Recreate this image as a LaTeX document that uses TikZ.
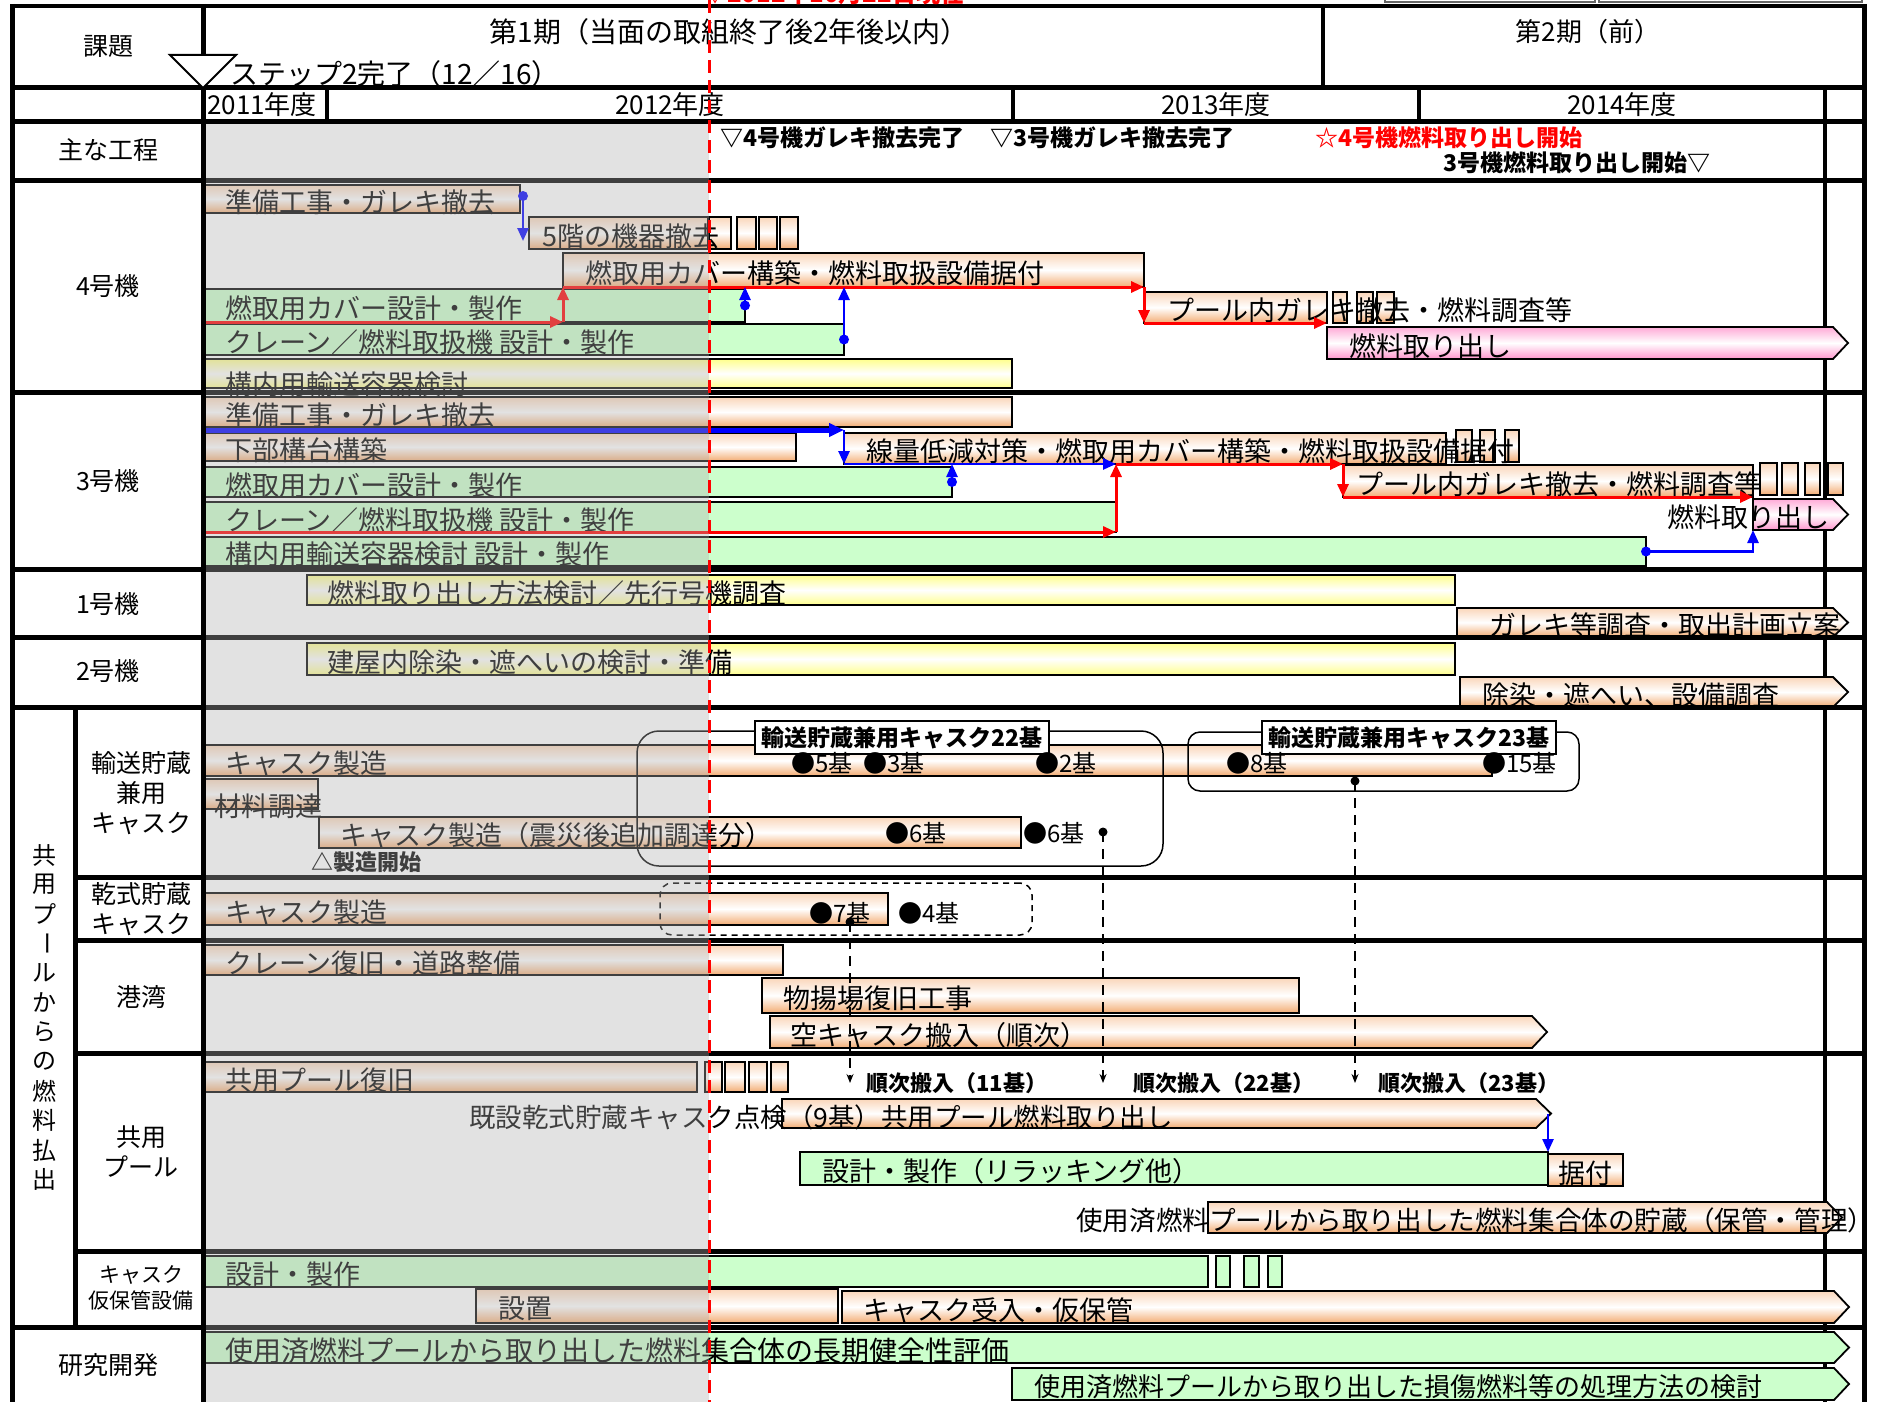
\documentclass[tikz,border=0pt]{standalone}
\usepackage{fontspec}
\setmainfont{Noto Sans CJK JP}
\usepackage{graphicx}
\usetikzlibrary{arrows.meta,calc}

\definecolor{peachT}{RGB}{250,214,186}
\definecolor{peachB}{RGB}{243,172,115}
\definecolor{greenF}{RGB}{204,255,204}
\definecolor{yelT}{RGB}{255,255,140}
\definecolor{pinkT}{RGB}{255,170,215}
\definecolor{pinkB}{RGB}{255,150,205}

\newcommand{\jfs}[1]{\fontsize{#1}{#1}\selectfont}
\newcommand{\mkbar}[6]{%
  \node[inner sep=0pt, outer sep=0pt, minimum width={(#5)-(#3)}, minimum height={(#6)-(#4)}, anchor=north west] (#1) at (#3,#4) {};
  \path[#2] (#1.north west) rectangle (#1.south east);}
\newcommand{\mkarr}[6]{%
  \node[inner sep=0pt, outer sep=0pt, minimum width={(#5)-(#3)}, minimum height={(#6)-(#4)}, anchor=north west] (#1) at (#3,#4) {};
  \path[#2] (#1.north west) -- (#1.north east) -- ([xshift=15pt]#1.east) -- (#1.south east) -- (#1.south west) -- cycle;}
\newcommand{\btx}[4]{\node[bt] (#1) at ([xshift=#3pt,yshift=-3pt]#2.west) {#4};}

\tikzset{
  pch/.style={draw=black, line width=1.8pt, top color=peachT, bottom color=peachB, middle color=white},
  grn/.style={draw=black, line width=1.8pt, fill=greenF},
  ylw/.style={draw=black, line width=1.8pt, top color=yelT, bottom color=yelT, middle color=white},
  pnk/.style={draw=black, line width=1.8pt, top color=pinkT, bottom color=pinkB, middle color=white},
  bt/.style={anchor=west, inner sep=0pt, font=\jfs{27}},
  ms/.style={anchor=west, inner sep=0pt, font=\bfseries\jfs{23}},
  sj/.style={anchor=west, inner sep=0pt, font=\bfseries\jfs{22}},
  kl/.style={anchor=west, inner sep=0pt, font=\jfs{24}},
  cl/.style={inner sep=0pt, align=center, font=\fontsize{25}{30}\selectfont},
  hd/.style={inner sep=0pt, font=\jfs{26}},
  vt/.style={inner sep=0pt, font=\jfs{24}},
  gl/.style={line width=5pt},
  rcon/.style={red, line width=3pt, -{Triangle[length=13pt,width=11pt]}},
  bcon/.style={blue, line width=2.5pt, -{Triangle[length=13pt,width=11pt]}},
  bconT/.style={blue, line width=5pt, -{Triangle[length=15pt,width=13pt]}},
  dcon/.style={black, line width=2pt, dash pattern=on 10pt off 7pt, -{Stealth[length=9pt,width=7pt]}},
  lab/.style={draw=black, fill=white, line width=2pt, font=\bfseries\jfs{23}, anchor=north west, inner sep=0pt},
}

\begin{document}
\begin{tikzpicture}[x=1pt,y=-1pt]
\useasboundingbox (0,0) rectangle (1886,1402);
\fill[white] (0,0) rectangle (1886,1402);

% inner right line (under bars)
\draw[line width=4.5pt] (1825,88) -- (1825,1402);

% ---------- 4号機 bars
\mkbar{b41}{pch}{203}{185}{520}{213}
\mkbar{b42}{pch}{529}{217}{708}{249}
\path[pch] (709,217) rectangle (731,249);
\path[pch] (737,217) rectangle (756,249);
\path[pch] (759,217) rectangle (777,249);
\path[pch] (780,217) rectangle (798,249);
\mkbar{b43}{pch}{563}{253}{1144}{287}
\mkbar{b44}{grn}{203}{289}{745}{322}
\mkbar{b45}{pch}{1144}{292}{1327}{323}
\path[pch] (1333,292) rectangle (1347,323);
\path[pch] (1357,292) rectangle (1373,323);
\path[pch] (1377,292) rectangle (1394,323);
\mkbar{b46}{grn}{203}{324}{844}{355}
\mkarr{b47}{pnk}{1327}{327}{1833}{359}
\mkbar{b48}{ylw}{203}{359}{1012}{388}

% ---------- 3号機 bars
\mkbar{b31}{pch}{203}{397}{1012}{427}
\mkbar{b32}{pch}{203}{433}{796}{461}
\mkbar{b33}{pch}{844}{433}{1446}{464}
\path[pch] (1456,430) rectangle (1472,462);
\path[pch] (1480,430) rectangle (1495,462);
\path[pch] (1505,430) rectangle (1519,462);
\mkbar{b34}{grn}{203}{467}{952}{497}
\mkbar{b35}{grn}{203}{502}{1116}{532}
\mkbar{b36}{grn}{203}{537}{1646}{566}
\mkbar{b37}{pch}{1343}{465}{1753}{497}
\path[pch] (1760,463) rectangle (1777,495);
\path[pch] (1782,463) rectangle (1798,495);
\path[pch] (1805,463) rectangle (1820,495);
\path[pch] (1828,463) rectangle (1843,495);
\mkarr{b38}{pnk}{1753}{499}{1833}{530}

% ---------- 1号機 / 2号機
\mkbar{b11}{ylw}{307}{575}{1455}{605}
\mkarr{b12}{pch}{1457}{608}{1833}{637}
\mkbar{b21}{ylw}{307}{643}{1455}{675}
\mkarr{b22}{pch}{1460}{677}{1833}{707}

% ---------- キャスク
\mkbar{c1}{pch}{203}{745}{1492}{776}
\mkbar{c2}{pch}{203}{779}{318}{809}
\mkbar{c3}{pch}{319}{817}{1021}{848}
\mkbar{d1}{pch}{203}{893}{888}{925}

% ---------- 港湾
\mkbar{h1}{pch}{203}{945}{783}{975}
\mkbar{h2}{pch}{762}{978}{1299}{1013}
\mkarr{h3}{pch}{770}{1016}{1532}{1048}

% ---------- 共用プール
\mkbar{p1}{pch}{203}{1062}{697}{1092}
\path[pch] (705,1062) rectangle (722,1092);
\path[pch] (725,1062) rectangle (745,1092);
\path[pch] (749,1062) rectangle (767,1092);
\path[pch] (771,1062) rectangle (788,1092);
\mkarr{p2}{pch}{782}{1099}{1536}{1128}
\mkbar{p3}{grn}{800}{1152}{1548}{1185}
\mkbar{p4}{pch}{1548}{1154}{1623}{1186}
\mkarr{p5}{pch}{1208}{1202}{1827}{1233}

% ---------- キャスク仮保管設備
\mkbar{s1}{grn}{203}{1256}{1208}{1287}
\path[grn] (1216,1256) rectangle (1230,1287);
\path[grn] (1244,1256) rectangle (1259,1287);
\path[grn] (1268,1256) rectangle (1282,1287);
\mkbar{s2}{pch}{476}{1289}{838}{1323}
\mkarr{s3}{pch}{842}{1291}{1834}{1323}

% ---------- 研究開発
\mkarr{r1}{grn}{203}{1332}{1834}{1363}
\mkarr{r2}{grn}{1012}{1368}{1834}{1400}

% ---------- rounded groups and labels
\node[draw, rounded corners=22pt, line width=1.5pt, minimum width=526, minimum height=135, anchor=north west, inner sep=0pt, outer sep=0pt] (rr1) at (637,731) {};
\node[draw, rounded corners=12pt, line width=1.5pt, minimum width=391, minimum height=59, anchor=north west, inner sep=0pt, outer sep=0pt] (rr2) at (1188,732) {};
\node[draw, rounded corners=12pt, line width=1.5pt, dash pattern=on 6pt off 5pt, minimum width=372, minimum height=52, anchor=north west, inner sep=0pt, outer sep=0pt] (rr3) at (660,883) {};
\node[lab, minimum width=294, minimum height=33] (lab22) at (754,720) {輸送貯蔵兼用キャスク22基};
\node[lab, minimum width=294, minimum height=33] (lab23) at (1261,720) {輸送貯蔵兼用キャスク23基};

% ---------- bar texts
\btx{t41}{b41}{22}{準備工事・ガレキ撤去}
\btx{t42}{b42}{13}{5階の機器撤去}
\btx{t43}{b43}{22}{燃取用カバー構築・燃料取扱設備据付}
\btx{t44}{b44}{22}{燃取用カバー設計・製作}
\btx{t45}{b45}{23}{プール内ガレキ撤去・燃料調査等}
\btx{t46}{b46}{22}{クレーン／燃料取扱機 設計・製作}
\btx{t47}{b47}{22}{燃料取り出し}
\node[bt] (t48) at (225,384) {構内用輸送容器検討};
\btx{t31}{b31}{22}{準備工事・ガレキ撤去}
\btx{t32}{b32}{22}{下部構台構築}
\btx{t33}{b33}{22}{線量低減対策・燃取用カバー構築・燃料取扱設備据付}
\btx{t34}{b34}{22}{燃取用カバー設計・製作}
\btx{t35}{b35}{22}{クレーン／燃料取扱機 設計・製作}
\btx{t36}{b36}{22}{構内用輸送容器検討 設計・製作}
\btx{t37}{b37}{13}{プール内ガレキ撤去・燃料調査等}
\node[bt, anchor=east] (t38) at (1830,517) {燃料取り出し};
\btx{t11}{b11}{20}{燃料取り出し方法検討／先行号機調査}
\btx{t12}{b12}{32}{ガレキ等調査・取出計画立案}
\btx{t21}{b21}{20}{建屋内除染・遮へいの検討・準備}
\btx{t22}{b22}{22}{除染・遮へい、設備調査}
\btx{tc1}{c1}{22}{キャスク製造}
\node[bt] (tc2) at (214,806) {材料調達};
\btx{tc3}{c3}{21}{キャスク製造（震災後追加調達分）}
\btx{td1}{d1}{22}{キャスク製造}
\btx{th1}{h1}{22}{クレーン復旧・道路整備}
\btx{th2}{h2}{21}{物揚場復旧工事}
\btx{th3}{h3}{20}{空キャスク搬入（順次）}
\btx{tp1}{p1}{22}{共用プール復旧}
\node[bt, font=\jfs{26.5}] (tp2) at (469,1117) {既設乾式貯蔵キャスク点検（9基）共用プール燃料取り出し};
\btx{tp3}{p3}{22}{設計・製作（リラッキング他）}
\btx{tp4}{p4}{10}{据付}
\node[bt, font=\jfs{26.6}] (tp5) at (1076,1220) {使用済燃料プールから取り出した燃料集合体の貯蔵（保管・管理）};
\btx{ts1}{s1}{22}{設計・製作}
\btx{ts2}{s2}{22}{設置}
\btx{ts3}{s3}{21}{キャスク受入・仮保管}
\node[bt, font=\jfs{28}] (tr1) at ([xshift=22pt,yshift=-3pt]r1.west) {使用済燃料プールから取り出した燃料集合体の長期健全性評価};
\node[bt, font=\jfs{26}] (tr2) at ([xshift=22pt,yshift=-3pt]r2.west) {使用済燃料プールから取り出した損傷燃料等の処理方法の検討};

% cask count labels
\node[kl] (k5) at (791,763) {●5基};
\node[kl] (k3) at (863,763) {●3基};
\node[kl] (k2) at (1035,763) {●2基};
\node[kl] (k8) at (1226,763) {●8基};
\node[kl] (k15) at (1482,763) {●15基};
\node[kl] (k6a) at (885,833) {●6基};
\node[kl] (k6b) at (1023,833) {●6基};
\node[kl] (k7) at (809,913) {●7基};
\node[kl] (k4) at (898,913) {●4基};
\node[ms, font=\bfseries\jfs{22}] (mk) at (311,862) {△製造開始};
\node[sj] (n11) at (866,1083) {順次搬入（11基）};
\node[sj] (n22) at (1133,1083) {順次搬入（22基）};
\node[sj] (n23) at (1378,1083) {順次搬入（23基）};

% ---------- connectors 4号機
\coordinate (q1) at ([xshift=3pt,yshift=3pt]b41.east);
\draw[bcon] (q1) -- ++(0,45);
\fill[blue] (q1) circle (5pt);
\draw[rcon] (b44.south west) -- (b44.south west -| b43.west);
\draw[rcon] (b44.south west -| b43.west) -- (b43.south west);
\draw[rcon] (b43.south west) -- (b43.south east);
\draw[rcon] (b43.south east) -- (b45.south west);
\draw[rcon] (b45.south west) -- (b45.south east);
\draw[bcon] (b44.east) -- (b44.east |- b43.south);
\fill[blue] (b44.east) circle (5pt);
\draw[bcon] (b46.east) -- (b46.east |- b43.south);
\fill[blue] (b46.east) circle (5pt);

% ---------- connectors 3号機
\coordinate (q3) at ([yshift=-3pt]b31.south west);
\draw[bconT] (q3) -- (q3 -| b33.west);
\draw[bcon] (q3 -| b33.west) -- (b33.south west);
\draw[bcon] (b33.south west) -- (b33.south west -| b35.east);
\draw[rcon] (b33.south west -| b35.east) -- (b33.south west -| b37.west);
\draw[rcon] (b33.south west -| b37.west) -- (b37.south west);
\draw[rcon] (b37.south west) -- (b37.south east);
\draw[rcon] (b35.south west) -- (b35.south east);
\draw[rcon] (b35.south east) -- (b35.south east |- b33.south);
\draw[bcon] (b34.east) -- (b34.east |- b33.south);
\fill[blue] (b34.east) circle (5pt);
\draw[bcon] (b36.east) -| (b38.south west);
\fill[blue] (b36.east) circle (5pt);

% ---------- dashed delivery arrows
\coordinate (q11) at (850,922);
\coordinate (q22) at (1103,832);
\coordinate (q23) at (1355,781);
\draw[dcon] (q11) -- (q11 |- n11.center);
\draw[dcon] (q22) -- (q22 |- n22.center);
\draw[dcon] (q23) -- (q23 |- n23.center);
\fill (q11) circle (4.5pt);
\fill (q22) circle (4.5pt);
\fill (q23) circle (4.5pt);
\draw[bcon] (p3.north east |- p2.east) -- (p3.north east);

% ---------- grid
\draw[line width=4pt] (12,6) -- (1864,6);
\foreach \yy in {88,122,180,392,569,637,707,1327}
  \draw[gl] (12,\yy) -- (1864,\yy);
\foreach \yy in {877,940,1053,1251}
  \draw[gl] (75,\yy) -- (1864,\yy);
\draw[gl] (12,4) -- (12,1402);
\draw[gl] (203,4) -- (203,1402);
\draw[gl] (75,707) -- (75,1327);
\draw[gl] (1864,4) -- (1864,1402);
\draw[line width=3.5pt] (1323,6) -- (1323,88);
\foreach \xx in {327,1013,1419}
  \draw[line width=4pt] (\xx,88) -- (\xx,122);
\draw[black!60, line width=1.5pt] (1385,-30) rectangle (1595,2);
\draw[black!60, line width=1.5pt] (1599,-30) rectangle (1862,2);

% ---------- header
\node[hd, font=\jfs{28}] (h1t) at (729,32) {第1期（当面の取組終了後2年後以内）};
\node[hd] (h2t) at (1588,32) {第2期（前）};
\path[draw=black, fill=white, line width=2pt] (170,55) -- (236,55) -- (203,88) -- cycle;
\node[hd, anchor=west, font=\jfs{28}] (stp) at (230,74) {ステップ2完了（12／16）};
\node[hd, anchor=west] (y11) at (207,105) {2011年度};
\node[hd] (y12) at (670,105) {2012年度};
\node[hd] (y13) at (1216,105) {2013年度};
\node[hd] (y14) at (1622,105) {2014年度};
\node[ms] (m1) at (720,138) {▽4号機ガレキ撤去完了};
\node[ms] (m2) at (990,138) {▽3号機ガレキ撤去完了};
\node[ms, text=red] (m3) at (1315,138) {☆4号機燃料取り出し開始};
\node[ms] (m4) at (1443,163) {3号機燃料取り出し開始▽};

% ---------- left labels
\node[cl] (l0) at (108,46) {課題};
\node[cl] (l1) at (108,150) {主な工程};
\node[cl] (l2) at (108,286) {4号機};
\node[cl] (l3) at (108,481) {3号機};
\node[cl] (l4) at (108,604) {1号機};
\node[cl] (l5) at (108,671) {2号機};
\node[cl] (l6) at (141,793) {輸送貯蔵\\兼用\\キャスク};
\node[cl] (l7) at (141,909) {乾式貯蔵\\キャスク};
\node[cl] (l8) at (141,997) {港湾};
\node[cl] (l9) at (141,1152) {共用\\プール};
\node[cl, font=\fontsize{21}{26}\selectfont] (l10) at (141,1288) {キャスク\\仮保管設備};
\node[cl] (l11) at (108,1365) {研究開発};
\node[vt] (v1) at (44,855) {共};
\node[vt] (v2) at (44,884.5) {用};
\node[vt] (v3) at (44,914) {プ};
\node[vt, rotate=-90] (v4) at (44,943.5) {ー};
\node[vt] (v5) at (44,973) {ル};
\node[vt] (v6) at (44,1002.5) {か};
\node[vt] (v7) at (44,1032) {ら};
\node[vt] (v8) at (44,1061.5) {の};
\node[vt] (v9) at (44,1091) {燃};
\node[vt] (v10) at (44,1120.5) {料};
\node[vt] (v11) at (44,1150) {払};
\node[vt] (v12) at (44,1179.5) {出};

% ---------- past-period overlay and current-date line
\fill[black!31, opacity=0.36] (205.5,124.5) rectangle (709,1402);
\draw[red, line width=3pt, dash pattern=on 13pt off 7pt] (709,0) -- (709,1402);
\node[anchor=base west, inner sep=0pt, text=red, font=\bfseries\jfs{24}] (now) at (703,3) {▽2012年10月22日現在};
\end{tikzpicture}
\end{document}
